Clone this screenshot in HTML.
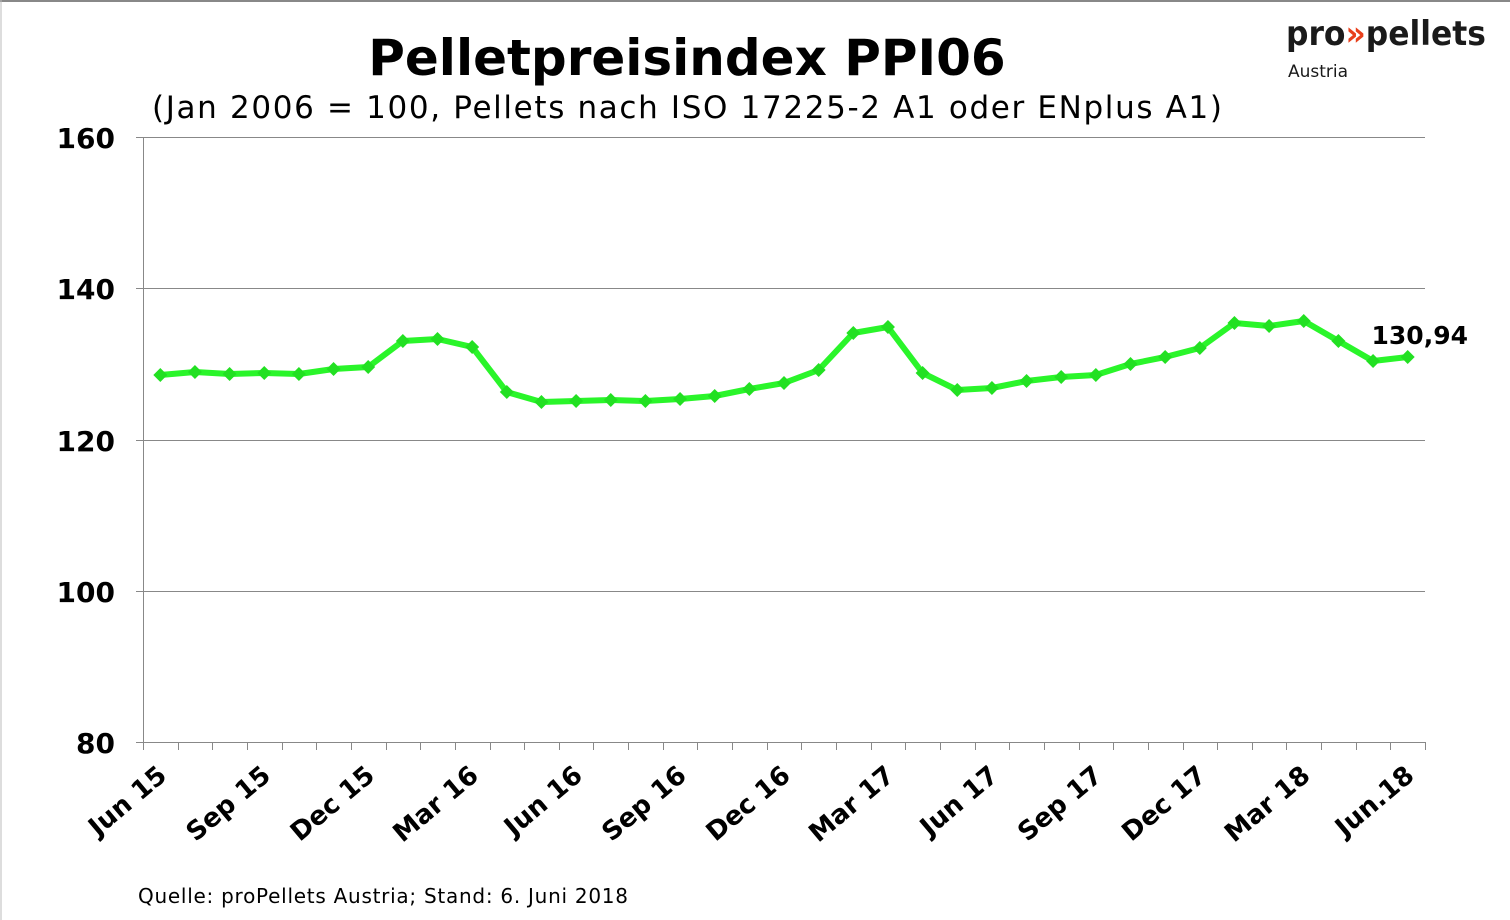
<!DOCTYPE html>
<html><head><meta charset="utf-8"><style>
html,body{margin:0;padding:0;background:#fff}
svg{display:block}
text{font-family:"DejaVu Sans","Liberation Sans",sans-serif}
</style></head><body>
<svg id="s" width="1510" height="920" viewBox="0 0 1510 920" xmlns="http://www.w3.org/2000/svg">
<rect x="0" y="0" width="1510" height="920" fill="#fff"/>
<line x1="0" y1="1" x2="1510" y2="1" stroke="#888" stroke-width="2"/>
<line x1="1" y1="0" x2="1" y2="920" stroke="#bbb" stroke-width="1"/>
<text x="687" y="75" text-anchor="middle" font-size="50" font-weight="bold">Pelletpreisindex PPI06</text>
<text x="687" y="118" text-anchor="middle" font-size="31" textLength="1070" lengthAdjust="spacing">(Jan 2006 = 100, Pellets nach ISO 17225-2 A1 oder ENplus A1)</text>
<text x="1286" y="45" font-size="34" font-weight="bold" textLength="200" lengthAdjust="spacingAndGlyphs" fill="#1a1a1a">pro<tspan fill="#e8401c">»</tspan>pellets</text>
<text x="1288" y="77" font-size="17" font-family="Liberation Sans,sans-serif" fill="#1a1a1a">Austria</text>
<g stroke="#888" stroke-width="1">
<line x1="143" y1="137.5" x2="1425" y2="137.5"/>
<line x1="143" y1="288.5" x2="1425" y2="288.5"/>
<line x1="143" y1="440.5" x2="1425" y2="440.5"/>
<line x1="143" y1="591.5" x2="1425" y2="591.5"/>
<line x1="136" y1="742.5" x2="1425" y2="742.5"/>
<line x1="136" y1="137.5" x2="143" y2="137.5"/>
<line x1="136" y1="288.5" x2="143" y2="288.5"/>
<line x1="136" y1="440.5" x2="143" y2="440.5"/>
<line x1="136" y1="591.5" x2="143" y2="591.5"/>
<line x1="143.5" y1="137" x2="143.5" y2="742"/>
</g>
<g id="ticks" stroke="#888" stroke-width="1"></g>
<g font-size="28" font-weight="bold" text-anchor="end">
<text x="115" y="148">160</text>
<text x="115" y="299">140</text>
<text x="115" y="451">120</text>
<text x="115" y="602">100</text>
<text x="115" y="753">80</text>
</g>
<g id="xl" font-size="26" font-weight="bold" text-anchor="end"></g>
<polyline id="ln" fill="none" stroke="#2af52a" stroke-width="6" stroke-linejoin="round"/>
<g id="mk" fill="#22e022"></g>
<text x="1468" y="344" text-anchor="end" font-size="25" font-weight="bold">130,94</text>
<text x="138" y="903" font-size="20" textLength="490" lengthAdjust="spacing">Quelle: proPellets Austria; Stand: 6. Juni 2018</text>
</svg>
<script>
var ys=[375,372,374,373,374,369,367,341,339,347,392,402,401,400,401,399,396,389,383,370,333,327,373,390,388,381,377,375,364,357,348,323,326,321,341,361,357];
var ns="http://www.w3.org/2000/svg",pts=[],mk=document.getElementById('mk'),tk=document.getElementById('ticks'),xl=document.getElementById('xl');
var labels=["Jun 15","Sep 15","Dec 15","Mar 16","Jun 16","Sep 16","Dec 16","Mar 17","Jun 17","Sep 17","Dec 17","Mar 18","Jun.18"];
for(var i=0;i<37;i++){var x=160.3+34.65*i;pts.push(x+','+ys[i]);
var p=document.createElementNS(ns,'polygon');p.setAttribute('points',(x-7)+','+ys[i]+' '+x+','+(ys[i]-7)+' '+(x+7)+','+ys[i]+' '+x+','+(ys[i]+7));mk.appendChild(p);}
for(var i=0;i<=37;i++){var x=Math.round(143+34.65*i)+0.5;var l=document.createElementNS(ns,'line');l.setAttribute('x1',x);l.setAttribute('x2',x);l.setAttribute('y1',742);l.setAttribute('y2',750);tk.appendChild(l);}
for(var j=0;j<13;j++){var x=160.3+34.65*j*3+8,y=778;var t=document.createElementNS(ns,'text');t.setAttribute('transform','translate('+x+','+y+') rotate(-40)');t.textContent=labels[j];xl.appendChild(t);}
document.getElementById('ln').setAttribute('points',pts.join(' '));
</script>
</body></html>
